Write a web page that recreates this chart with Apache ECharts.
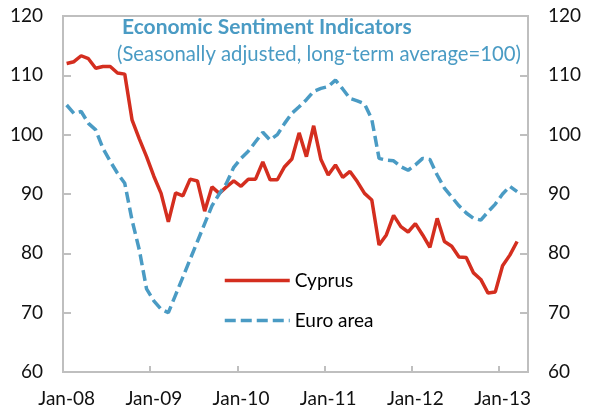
<!DOCTYPE html>
<html>
<head>
<meta charset="utf-8">
<script src="https://cdn.jsdelivr.net/npm/echarts@6/dist/echarts.min.js"></script>
<style>
  html, body { margin: 0; padding: 0; background: #fff; }
  #chart { width: 590px; height: 416px; }
</style>
</head>
<body>
<div id="chart"></div>
<script>
// monthly categories Jan-08 .. Apr-13 (last one left empty, as in the original axis)
const monthNames = ['Jan', 'Feb', 'Mar', 'Apr', 'May', 'Jun', 'Jul', 'Aug', 'Sep', 'Oct', 'Nov', 'Dec'];
const years = ['08', '09', '10', '11', '12', '13'];
const months = [];
years.forEach((y) => monthNames.forEach((m) => months.push(m + '-' + y)));
const categories = months.slice(0, 64);

// Cyprus, Jan-08 .. Mar-13
const cyprus = [
  112.0, 112.3, 113.3, 112.8, 111.2, 111.5, 111.5, 110.4, 110.2, 102.5, 99.3, 96.3,
  93.0, 90.1, 85.3, 90.2, 89.7, 92.5, 92.2, 87.1, 91.2, 90.1, 91.2, 92.2,
  91.3, 92.5, 92.5, 95.4, 92.4, 92.4, 94.6, 95.9, 100.3, 96.3, 101.5, 95.8,
  93.2, 94.9, 92.8, 93.8, 92.1, 90.1, 89.0, 81.4, 83.1, 86.4, 84.5, 83.6,
  85.0, 83.1, 81.0, 85.9, 82.0, 81.2, 79.4, 79.3, 76.7, 75.6, 73.3, 73.5,
  77.9, 79.7, 82.0
];

// Euro area, Jan-08 .. Mar-13
const euroArea = [
  105.0, 103.6, 103.9, 101.9, 100.8, 97.7, 95.5, 93.5, 91.8, 85.6, 80.6, 74.0,
  72.0, 70.6, 70.0, 73.0, 76.0, 79.0, 82.0, 85.0, 88.0, 90.0, 91.8, 94.5,
  96.0, 97.2, 98.8, 100.4, 99.1, 100.0, 101.9, 103.6, 104.7, 105.9, 107.3, 107.8,
  108.1, 109.2, 107.7, 106.1, 105.7, 105.2, 102.6, 96.0, 95.7, 95.6, 94.6, 94.0,
  94.9, 96.0, 95.8, 93.2, 91.0, 89.5, 88.0, 86.8, 85.9, 85.6, 87.0, 88.3,
  90.0, 91.3, 90.4
];

const yTicks = { min: 60, max: 120, interval: 10 };

const FONT = 'Lato, "Open Sans", sans-serif';
const BLUE = '#4a9bc4';
const RED = '#d42e1f';
const GREY = '#bfbfbf';

const chart = echarts.init(document.getElementById('chart'), null, { renderer: 'canvas' });

const valueAxis = (position) => ({
  type: 'value',
  position: position,
  min: yTicks.min,
  max: yTicks.max,
  interval: yTicks.interval,
  axisLine: { show: true, lineStyle: { color: GREY, width: 2 } },
  axisTick: { show: true, inside: true, length: 8, lineStyle: { color: GREY, width: 2 } },
  axisLabel: { margin: 20, color: '#111', fontSize: 19, fontFamily: FONT },
  splitLine: { show: false },
});

const option = {
  animation: false,
  title: [
    {
      text: 'Economic Sentiment Indicators',
      left: 122,
      top: 17,
      padding: 0,
      textStyle: { color: BLUE, fontSize: 21, fontWeight: 'bold', fontFamily: FONT },
    },
    {
      text: '(Seasonally adjusted, long-term average=100)',
      left: 117,
      top: 44,
      padding: 0,
      textStyle: { color: BLUE, fontSize: 20.3, fontWeight: 'normal', fontFamily: FONT },
    },
  ],
  legend: {
    orient: 'vertical',
    left: 223,
    top: 271,
    padding: 0,
    itemWidth: 65,
    itemHeight: 14,
    itemGap: 21,
    itemStyle: { opacity: 0 },
    lineStyle: { width: 3.5 },
    textStyle: { color: '#000', fontSize: 19, fontFamily: FONT },
    data: ['Cyprus', 'Euro area'],
  },
  grid: {
    left: 63,
    right: 62,
    top: 16,
    bottom: 44,
    show: true,
    borderColor: GREY,
    borderWidth: 2,
  },
  xAxis: {
    type: 'category',
    data: categories,
    boundaryGap: true,
    axisLine: { show: true, lineStyle: { color: GREY, width: 2 } },
    axisTick: { show: true, inside: true, length: 6, interval: 11, lineStyle: { color: GREY, width: 2 } },
    axisLabel: { interval: 11, margin: 17, color: '#111', fontSize: 19, fontFamily: FONT },
  },
  yAxis: [valueAxis('left'), valueAxis('right')],
  series: [
    {
      name: 'Cyprus',
      type: 'line',
      data: cyprus,
      symbol: 'none',
      lineStyle: { color: RED, width: 3.5 },
      itemStyle: { color: RED },
    },
    {
      name: 'Euro area',
      type: 'line',
      data: euroArea,
      symbol: 'none',
      lineStyle: { color: BLUE, width: 3.5, type: [11, 5] },
      itemStyle: { color: BLUE },
    },
  ],
};

chart.setOption(option);
</script>
</body>
</html>
